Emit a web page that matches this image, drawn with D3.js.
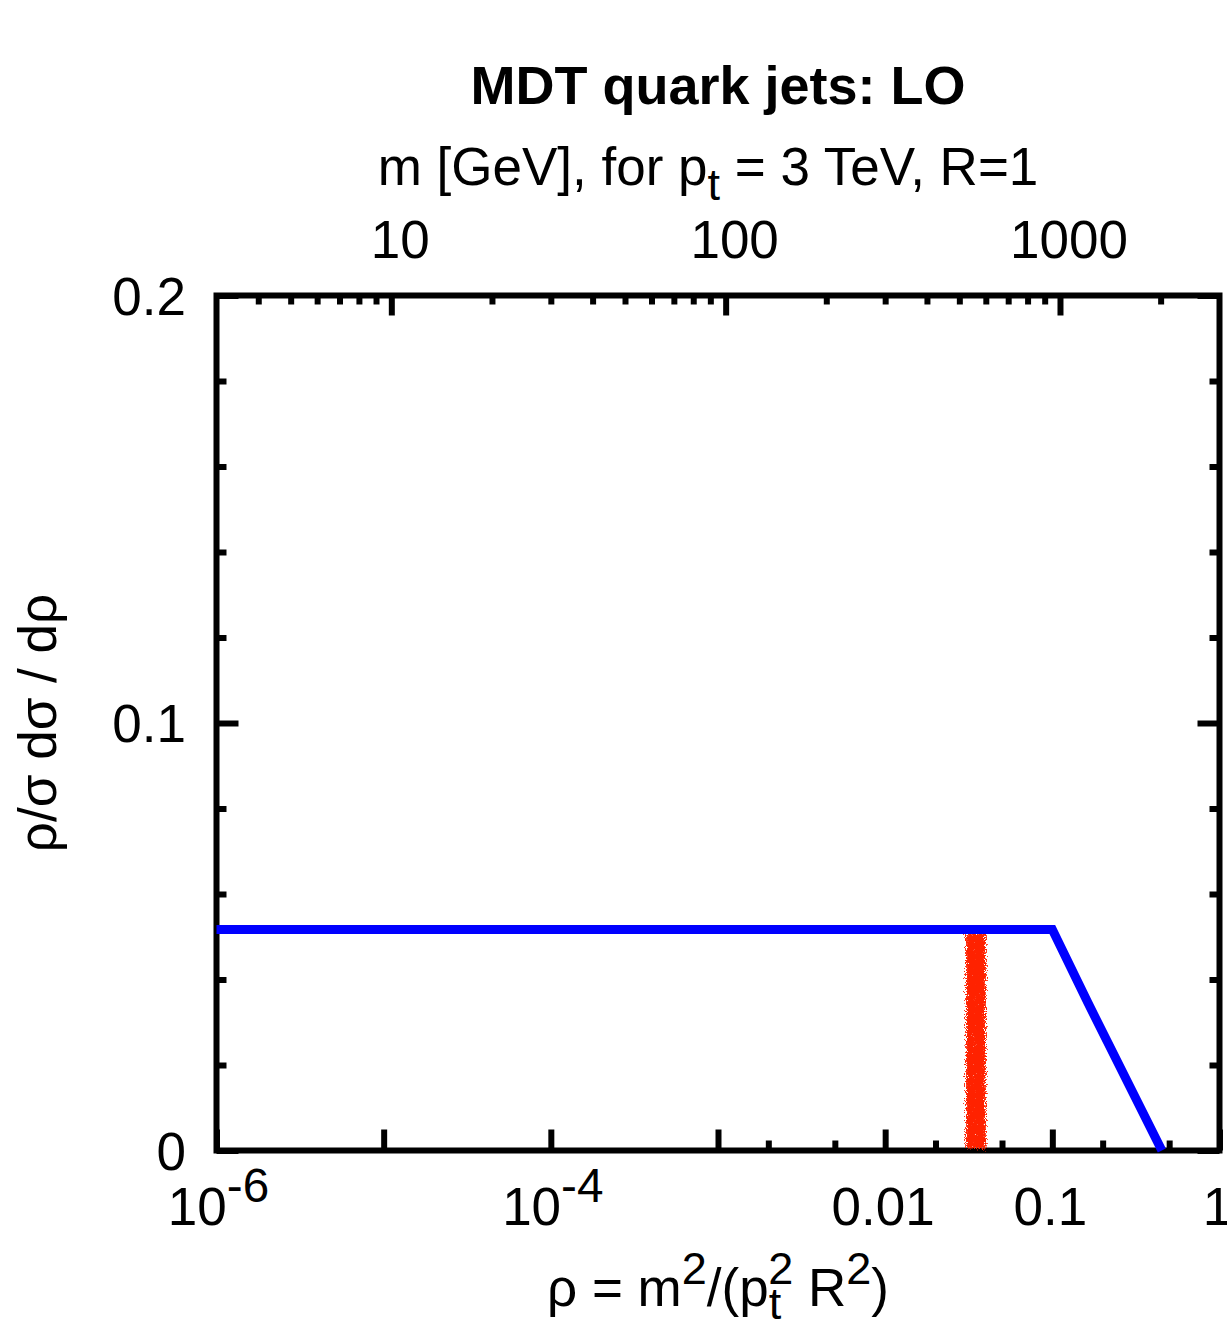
<!DOCTYPE html>
<html>
<head>
<meta charset="utf-8">
<script src="https://cdn.jsdelivr.net/npm/d3@7"></script>
<style>
  body { margin: 0; background: #fff; }
  svg { display: block; font-family: 'Liberation Sans', Arial, sans-serif; }
  .axis path { display: none; }
  .axis line { stroke: #000; stroke-width: 6; }
</style>
</head>
<body>
<div id="chart"></div>
<script>
'use strict';

// blue curve: rho vs rho/sigma dsigma/drho
const blueRho = [1e-6, 1e-4, 0.01, 0.1, 0.163, 0.452];
const blueVal = [0.0517, 0.0517, 0.0517, 0.0517, 0.0346, 0];

// red spike (narrow band of MC points)
const redRho = [0.0305, 0.0400];
const redTop = [0.0508, 0.0508];

// ticks
const xMajor = [1e-6, 1e-5, 1e-4, 1e-3, 0.01, 0.1, 1];
const xMinor = [0.002, 0.005, 0.02, 0.05, 0.2, 0.5];
const xLabels = [
  { v: 1e-6, base: '10', sup: '-6' },
  { v: 1e-4, base: '10', sup: '-4' },
  { v: 0.01, base: '0.01' },
  { v: 0.1, base: '0.1' },
  { v: 1, base: '1' }
];
const mMajor = [10, 100, 1000];
const mMinor = [4, 5, 6, 7, 8, 9, 20, 30, 40, 50, 60, 70, 80, 90,
  200, 300, 400, 500, 600, 700, 800, 900, 2000];
const yMajor = [0, 0.1, 0.2];
const yMinor = [0.02, 0.04, 0.06, 0.08, 0.12, 0.14, 0.16, 0.18];
const yLabels = ['0', '0.1', '0.2'];

const width = 1227;
const height = 1322;
const x0 = 216.5, x1 = 1219.5, y0 = 295.5, y1 = 1150.5;
const fs = 53;

const svg = d3.select('#chart')
  .append('svg')
  .attr('width', width)
  .attr('height', height);

const x = d3.scaleLog().domain([1e-6, 1]).range([x0, x1]);
const xm = d3.scaleLog().domain([3, 3000]).range([x0, x1]);
const y = d3.scaleLinear().domain([0, 0.2]).range([y1, y0]);

// noisy look for the red band
const defs = svg.append('defs');
const filt = defs.append('filter').attr('id', 'noisy')
  .attr('x', '-100%').attr('y', '-5%').attr('width', '300%').attr('height', '110%');
filt.append('feTurbulence').attr('type', 'fractalNoise')
  .attr('baseFrequency', 0.9).attr('numOctaves', 2).attr('seed', 4).attr('result', 'n');
filt.append('feDisplacementMap').attr('in', 'SourceGraphic').attr('in2', 'n')
  .attr('scale', 10).attr('xChannelSelector', 'R').attr('yChannelSelector', 'G')
  .attr('result', 'd');
filt.append('feTurbulence').attr('type', 'fractalNoise')
  .attr('baseFrequency', 1.1).attr('numOctaves', 1).attr('seed', 9).attr('result', 'n2');
filt.append('feColorMatrix').attr('in', 'n2').attr('type', 'matrix')
  .attr('values', '0 0 0 0 0  0 0 0 0 0  0 0 0 0 0  -6 0 0 0 5.2')
  .attr('result', 'mask');
filt.append('feComposite').attr('in', 'd').attr('in2', 'mask').attr('operator', 'in');

// ticks
function addAxis(axis, tx, ty) {
  svg.append('g').attr('class', 'axis')
    .attr('transform', `translate(${tx},${ty})`)
    .call(axis);
}
addAxis(d3.axisBottom(x).tickValues(xMajor).tickSize(-21).tickFormat(''), 0, y1);
addAxis(d3.axisBottom(x).tickValues(xMinor).tickSize(-10).tickFormat(''), 0, y1);
addAxis(d3.axisTop(xm).tickValues(mMajor).tickSize(-20).tickFormat(''), 0, y0);
addAxis(d3.axisTop(xm).tickValues(mMinor).tickSize(-9).tickFormat(''), 0, y0);
addAxis(d3.axisLeft(y).tickValues(yMajor).tickSize(-22).tickFormat(''), x0, 0);
addAxis(d3.axisLeft(y).tickValues(yMinor).tickSize(-10).tickFormat(''), x0, 0);
addAxis(d3.axisRight(y).tickValues(yMajor).tickSize(-22).tickFormat(''), x1, 0);
addAxis(d3.axisRight(y).tickValues(yMinor).tickSize(-10).tickFormat(''), x1, 0);

// frame
svg.append('rect')
  .attr('x', x0).attr('y', y0)
  .attr('width', x1 - x0).attr('height', y1 - y0)
  .attr('fill', 'none').attr('stroke', '#000').attr('stroke-width', 6);

// red band
const redData = redRho.map((r, i) => ({ r, v: redTop[i] }));
svg.append('path')
  .datum(redData)
  .attr('d', d3.area().x(d => x(d.r)).y0(y(0) - 2).y1(d => y(d.v)))
  .attr('fill', '#ff2200')
  .attr('filter', 'url(#noisy)');

// blue line
const blueData = blueRho.map((r, i) => ({ r, v: blueVal[i] }));
svg.append('path')
  .datum(blueData)
  .attr('d', d3.line().x(d => x(d.r)).y(d => y(d.v)))
  .attr('fill', 'none')
  .attr('stroke', '#0000ff')
  .attr('stroke-width', 9)
  .attr('stroke-linejoin', 'miter');

// tick labels
const lab = svg.append('g').attr('font-size', fs).attr('fill', '#000');

xLabels.forEach(d => {
  const t = lab.append('text')
    .attr('x', x(d.v) + (d.sup ? 2 : -2)).attr('y', 1225)
    .attr('text-anchor', 'middle');
  t.append('tspan').text(d.base);
  if (d.sup) {
    t.append('tspan').attr('dy', -23).attr('font-size', fs * 0.9).text(d.sup);
  }
});

mMajor.forEach(m => {
  lab.append('text')
    .attr('x', xm(m) + 9).attr('y', 258)
    .attr('text-anchor', 'middle')
    .text(m);
});

yMajor.forEach((v, i) => {
  lab.append('text')
    .attr('x', 186).attr('y', y(v) + 19)
    .attr('text-anchor', 'end')
    .text(yLabels[i]);
});

// titles
svg.append('text')
  .attr('x', 718).attr('y', 104)
  .attr('text-anchor', 'middle')
  .attr('font-size', fs + 1).attr('font-weight', 'bold')
  .text('MDT quark jets: LO');

const topTitle = svg.append('text')
  .attr('x', 708).attr('y', 185)
  .attr('text-anchor', 'middle')
  .attr('font-size', fs);
topTitle.append('tspan').text('m [GeV], for p');
topTitle.append('tspan').attr('dy', 15).attr('font-size', fs * 0.85).text('t');
topTitle.append('tspan').attr('dy', -15).text(' = 3 TeV, R=1');

const botTitle = svg.append('text')
  .attr('x', 718).attr('y', 1306)
  .attr('text-anchor', 'middle')
  .attr('font-size', fs);
botTitle.append('tspan').text('ρ = m');
botTitle.append('tspan').attr('dy', -22).attr('font-size', fs * 0.85).text('2');
botTitle.append('tspan').attr('dy', 22).text('/(p');
botTitle.append('tspan').attr('dy', 13).attr('font-size', fs * 0.85).text('t');
botTitle.append('tspan').attr('dx', -13).attr('dy', -35).attr('font-size', fs * 0.85).text('2');
botTitle.append('tspan').attr('dy', 22).text(' R');
botTitle.append('tspan').attr('dy', -22).attr('font-size', fs * 0.85).text('2');
botTitle.append('tspan').attr('dy', 22).text(')');

svg.append('text')
  .attr('transform', 'translate(56,723) rotate(-90)')
  .attr('text-anchor', 'middle')
  .attr('font-size', fs)
  .text('ρ/σ dσ / dρ');
</script>
</body>
</html>
